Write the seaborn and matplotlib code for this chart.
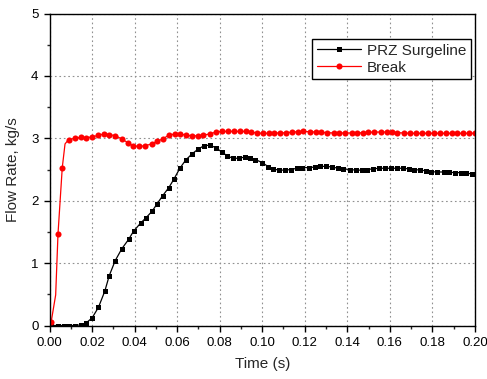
import matplotlib
matplotlib.use("Agg")
import matplotlib.pyplot as plt
from matplotlib.ticker import MultipleLocator, FormatStrFormatter
import seaborn as sns
import pandas as pd

# ---- data ----
break_t = [0.0008, 0.0029, 0.0040, 0.0060, 0.0073, 0.0090, 0.0120, 0.0150, 0.0170, 0.0200,
           0.0230, 0.0258, 0.0282, 0.0310, 0.0340, 0.0368, 0.0392, 0.0421, 0.0449, 0.0480,
           0.0506, 0.0532, 0.0561, 0.0589, 0.0613, 0.0643, 0.0672, 0.0700, 0.0723, 0.0753,
           0.0783, 0.0811, 0.0838, 0.0866, 0.0894, 0.0922, 0.0947, 0.0975, 0.1005, 0.1034,
           0.1055, 0.1084, 0.1112, 0.1142, 0.1168, 0.1194, 0.1225, 0.1254, 0.1278, 0.1306,
           0.1336, 0.1363, 0.1390, 0.1420, 0.1447, 0.1472, 0.1499, 0.1525, 0.1557, 0.1585,
           0.1610, 0.1636, 0.1667, 0.1695, 0.1722, 0.1750, 0.1778, 0.1806, 0.1834, 0.1862,
           0.1890, 0.1918, 0.1946, 0.1974, 0.2000]
break_v = [0.06, 0.49, 1.47, 2.53, 2.91, 2.98, 3.00, 3.02, 3.01, 3.02,
           3.05, 3.07, 3.06, 3.04, 2.99, 2.93, 2.88, 2.87, 2.88, 2.91,
           2.95, 2.99, 3.05, 3.07, 3.07, 3.05, 3.04, 3.04, 3.05, 3.07,
           3.10, 3.11, 3.11, 3.11, 3.11, 3.11, 3.10, 3.085, 3.08, 3.08,
           3.085, 3.085, 3.09, 3.10, 3.105, 3.11, 3.105, 3.10, 3.095, 3.09,
           3.085, 3.085, 3.085, 3.085, 3.085, 3.09, 3.095, 3.10, 3.10, 3.10,
           3.10, 3.09, 3.085, 3.08, 3.08, 3.08, 3.08, 3.08, 3.08, 3.08,
           3.08, 3.08, 3.08, 3.08, 3.08]
# points 1 and 4 are line vertices drawn without a symbol
break_marked = [True, False, True, True, False] + [True] * (len(break_t) - 5)

surge_t = [0.0008, 0.0038, 0.0066, 0.0094, 0.0122, 0.0146, 0.0170, 0.0200, 0.0230, 0.0260,
           0.0281, 0.0309, 0.0340, 0.0372, 0.0395, 0.0428, 0.0452, 0.0482, 0.0504, 0.0532,
           0.0561, 0.0584, 0.0613, 0.0640, 0.0670, 0.0700, 0.0726, 0.0753, 0.0782, 0.0810,
           0.0835, 0.0861, 0.0889, 0.0920, 0.0944, 0.0968, 0.1000, 0.1029, 0.1049, 0.1079,
           0.1107, 0.1137, 0.1162, 0.1189, 0.1219, 0.1248, 0.1272, 0.1300, 0.1330, 0.1356,
           0.1380, 0.1413, 0.1440, 0.1468, 0.1495, 0.1520, 0.1549, 0.1577, 0.1605, 0.1632,
           0.1660, 0.1690, 0.1716, 0.1742, 0.1769, 0.1795, 0.1822, 0.1853, 0.1880, 0.1906,
           0.1933, 0.1960, 0.1988]
surge_v = [0.0, 0.0, 0.0, 0.0, 0.0, 0.01, 0.035, 0.12, 0.29, 0.55,
           0.80, 1.04, 1.23, 1.38, 1.51, 1.64, 1.72, 1.83, 1.94, 2.08,
           2.21, 2.34, 2.52, 2.65, 2.75, 2.83, 2.88, 2.89, 2.85, 2.78,
           2.72, 2.68, 2.68, 2.70, 2.69, 2.66, 2.61, 2.545, 2.51, 2.49,
           2.49, 2.50, 2.52, 2.53, 2.53, 2.54, 2.55, 2.55, 2.54, 2.52,
           2.51, 2.50, 2.49, 2.49, 2.50, 2.51, 2.52, 2.52, 2.52, 2.52,
           2.52, 2.51, 2.50, 2.49, 2.48, 2.465, 2.46, 2.46, 2.455, 2.45,
           2.45, 2.44, 2.43]

x_ticks = [0.00, 0.02, 0.04, 0.06, 0.08, 0.10, 0.12, 0.14, 0.16, 0.18, 0.20]
y_ticks = [0, 1, 2, 3, 4, 5]

# ---- style ----
sns.set_style("ticks")
plt.rcParams["font.family"] = ["Liberation Sans", "DejaVu Sans"]
plt.rcParams["axes.linewidth"] = 1.0

fig = plt.figure(figsize=(4.87, 3.79), dpi=100)
ax = fig.add_axes([49.5 / 487, 1 - 325.5 / 379, (474.9 - 49.5) / 487, (325.5 - 13.5) / 379])

df_s = pd.DataFrame({"t": surge_t, "v": surge_v})
df_b = pd.DataFrame({"t": break_t, "v": break_v})

sns.lineplot(data=df_s, x="t", y="v", ax=ax, color="black", lw=0.9, marker="s",
             markersize=3.6, markeredgewidth=0, label="PRZ Surgeline", sort=False,
             estimator=None)
sns.lineplot(data=df_b, x="t", y="v", ax=ax, color="#ff0000", lw=0.9, marker="o",
             markersize=4.4, markeredgewidth=0, label="Break", sort=False,
             estimator=None, markevery=break_marked)

ax.set_xlim(0, 0.2)
ax.set_ylim(0, 5)
ax.set_xticks(x_ticks)
ax.set_yticks(y_ticks)
ax.xaxis.set_major_formatter(FormatStrFormatter("%.2f"))
ax.xaxis.set_minor_locator(MultipleLocator(0.01))
ax.yaxis.set_minor_locator(MultipleLocator(0.5))
ax.tick_params(which="major", direction="out", length=4, width=1.0, labelsize=9.5,
               colors="black", pad=4)
ax.tick_params(which="minor", direction="out", length=2.5, width=1.0)
ax.tick_params(top=False, right=False, which="both")
for s in ax.spines.values():
    s.set_visible(True)
    s.set_color("black")
    s.set_linewidth(1.0)

ax.grid(True, which="major", color="#909090", linestyle=(0, (1.5, 2.5)), linewidth=0.8)
ax.set_axisbelow(True)

ax.set_xlabel("Time (s)", fontsize=11, labelpad=6)
ax.set_ylabel("Flow Rate, kg/s", fontsize=11, labelpad=8)

leg = ax.legend(loc="upper right", bbox_to_anchor=(0.990, 0.918), borderaxespad=0,
                fontsize=11, frameon=True, fancybox=False, framealpha=1,
                edgecolor="black", handlelength=2.9, handletextpad=0.35,
                borderpad=0.3, labelspacing=0.2)
leg.get_frame().set_linewidth(1.0)

fig.savefig("out.png", dpi=100)
